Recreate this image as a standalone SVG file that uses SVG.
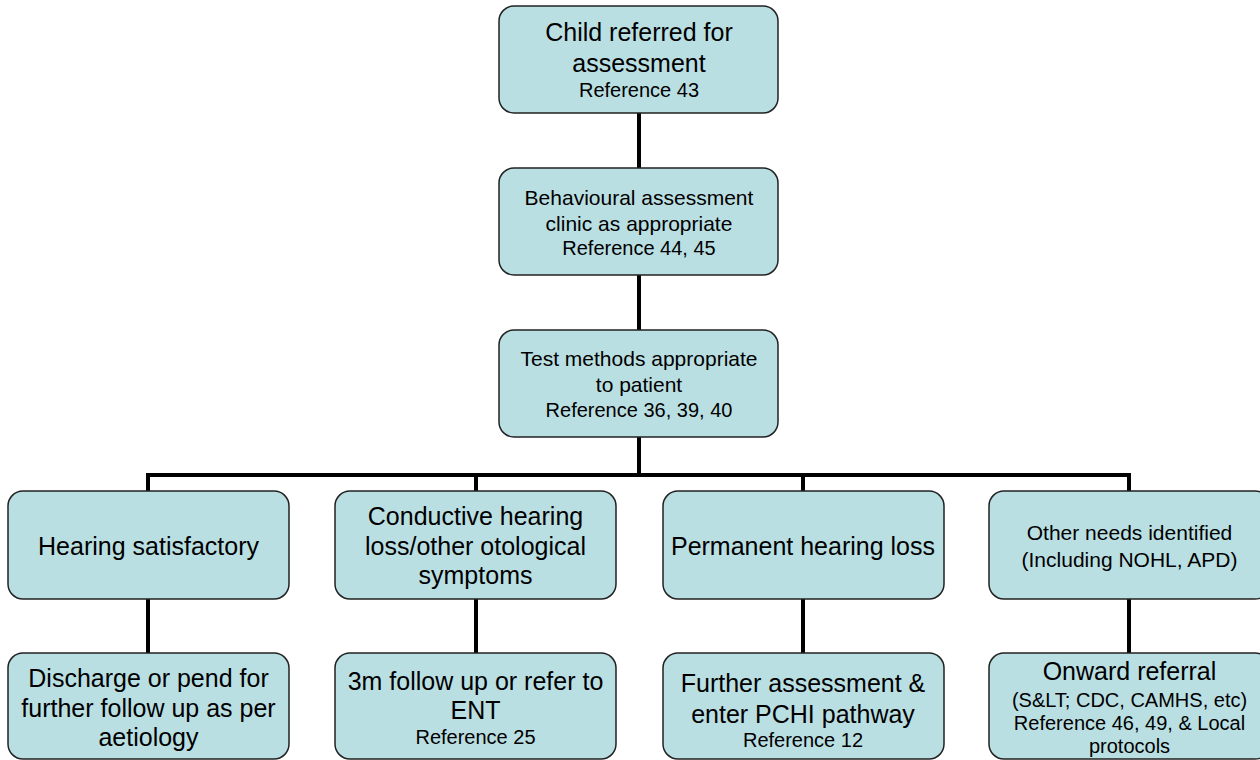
<svg xmlns="http://www.w3.org/2000/svg" width="1260" height="760" viewBox="0 0 1260 760">
  <style>
    .box { fill: #BADFE3; stroke: #222; stroke-width: 1.5; }
    .wire { stroke: #000; stroke-width: 4; fill: none; }
    text { font-family: "Liberation Sans", Arial, sans-serif; fill: #000; text-anchor: middle; }
    .t25 { font-size: 25px; }
    .t21 { font-size: 21px; }
    .t20 { font-size: 20px; }
  </style>
  <rect width="1260" height="760" fill="#fff"/>

  <!-- connectors -->
  <g id="connectors">
    <line class="wire" x1="639" y1="113" x2="639" y2="168"/>
    <line class="wire" x1="639" y1="275" x2="639" y2="330"/>
    <line class="wire" x1="639" y1="437" x2="639" y2="475"/>
    <polyline class="wire" points="148,491 148,475 1129,475 1129,491"/>
    <line class="wire" x1="476" y1="475" x2="476" y2="491"/>
    <line class="wire" x1="803" y1="475" x2="803" y2="491"/>
    <line class="wire" x1="148" y1="599" x2="148" y2="653"/>
    <line class="wire" x1="476" y1="599" x2="476" y2="653"/>
    <line class="wire" x1="803" y1="599" x2="803" y2="653"/>
    <line class="wire" x1="1129" y1="599" x2="1129" y2="653"/>
  </g>

  <g id="referred">
    <rect class="box" x="499" y="6" width="279" height="107" rx="15"/>
    <text class="t25" x="639" y="41">Child referred for</text>
    <text class="t25" x="639" y="72">assessment</text>
    <text class="t20" x="639" y="97">Reference 43</text>
  </g>

  <g id="behavioural">
    <rect class="box" x="499" y="168" width="279" height="107" rx="15"/>
    <text class="t21" x="639" y="205">Behavioural assessment</text>
    <text class="t21" x="639" y="231">clinic as appropriate</text>
    <text class="t20" x="639" y="255">Reference 44, 45</text>
  </g>

  <g id="test-methods">
    <rect class="box" x="499" y="330" width="279" height="107" rx="15"/>
    <text class="t21" x="639" y="366">Test methods appropriate</text>
    <text class="t21" x="639" y="392">to patient</text>
    <text class="t20" x="639" y="417">Reference 36, 39, 40</text>
  </g>

  <g id="satisfactory">
    <rect class="box" x="8" y="491" width="281" height="108" rx="15"/>
    <text class="t25" x="148.5" y="555">Hearing satisfactory</text>
  </g>

  <g id="conductive">
    <rect class="box" x="335" y="491" width="281" height="108" rx="15"/>
    <text class="t25" x="475.5" y="525">Conductive hearing</text>
    <text class="t25" x="475.5" y="555">loss/other otological</text>
    <text class="t25" x="475.5" y="584">symptoms</text>
  </g>

  <g id="permanent">
    <rect class="box" x="663" y="491" width="281" height="108" rx="15"/>
    <text class="t25" x="803" y="555">Permanent hearing loss</text>
  </g>

  <g id="other-needs">
    <rect class="box" x="989" y="491" width="281" height="108" rx="15"/>
    <text class="t21" x="1129.5" y="540">Other needs identified</text>
    <text class="t21" x="1129.5" y="567">(Including NOHL, APD)</text>
  </g>

  <g id="discharge">
    <rect class="box" x="8" y="653" width="281" height="106" rx="15"/>
    <text class="t25" x="148.5" y="687">Discharge or pend for</text>
    <text class="t25" x="148.5" y="717">further follow up as per</text>
    <text class="t25" x="148.5" y="746">aetiology</text>
  </g>

  <g id="follow-up">
    <rect class="box" x="335" y="653" width="281" height="106" rx="15"/>
    <text class="t25" x="475.5" y="690">3m follow up or refer to</text>
    <text class="t25" x="475.5" y="719">ENT</text>
    <text class="t20" x="475.5" y="744">Reference 25</text>
  </g>

  <g id="further-assessment">
    <rect class="box" x="663" y="653" width="281" height="106" rx="15"/>
    <text class="t25" x="803" y="692">Further assessment &amp;</text>
    <text class="t25" x="803" y="723">enter PCHI pathway</text>
    <text class="t20" x="803" y="747">Reference 12</text>
  </g>

  <g id="onward">
    <rect class="box" x="989" y="653" width="281" height="106" rx="15"/>
    <text class="t25" x="1129.5" y="680">Onward referral</text>
    <text class="t20" x="1129.5" y="707">(S&amp;LT; CDC, CAMHS, etc)</text>
    <text class="t20" x="1129.5" y="730">Reference 46, 49, &amp; Local</text>
    <text class="t20" x="1129.5" y="753">protocols</text>
  </g>
</svg>
